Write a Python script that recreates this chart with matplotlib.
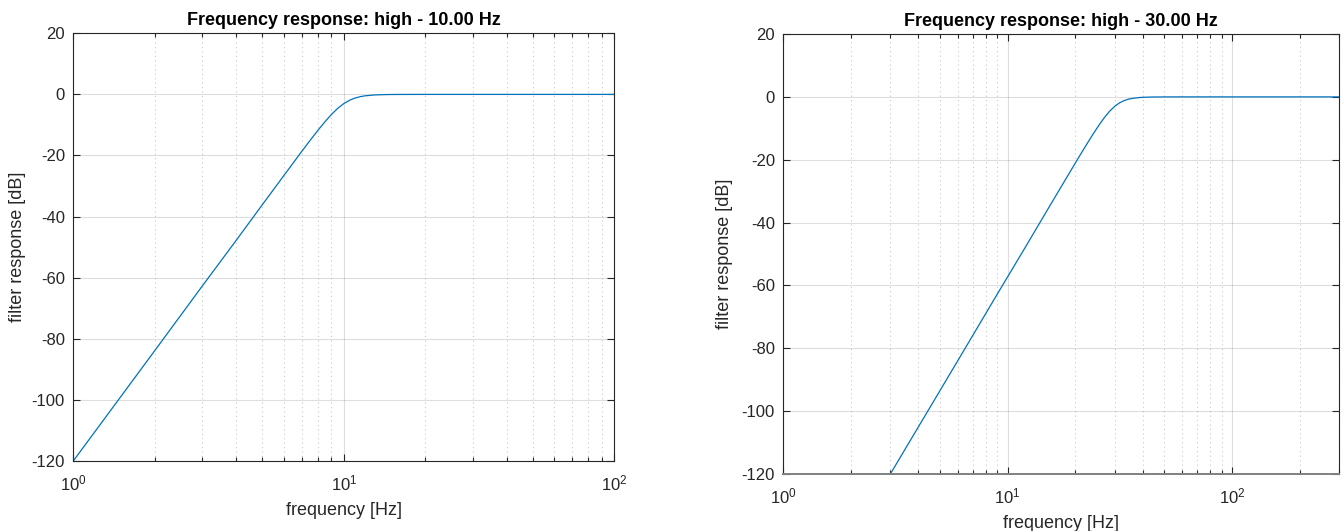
import matplotlib
matplotlib.use("Agg")
import matplotlib.pyplot as plt
from matplotlib.ticker import LogLocator, NullFormatter

plt.rcParams['font.family'] = ['Liberation Sans', 'DejaVu Sans']
plt.rcParams['mathtext.fontset'] = 'custom'
plt.rcParams['mathtext.rm'] = 'Liberation Sans'
plt.rcParams['axes.unicode_minus'] = False

# Left panel: high-pass at 10 Hz
freq_10 = [1, 2, 3, 4, 5, 6, 7, 7.5, 8, 8.5, 9, 9.5, 10, 10.5, 11, 11.5, 12, 13, 14, 15, 17, 20, 100]
# Right panel: high-pass at 30 Hz (curve visible from ~3 Hz)
freq_30 = [3, 6, 9, 12, 15, 18, 21, 22.5, 24, 25.5, 27, 28.5, 30, 31.5, 33, 34.5, 36, 39, 42, 45, 51, 60, 300]
resp_db = [-120, -83.9, -62.7, -47.8, -36.1, -26.6, -18.6, -15.1, -11.9, -9.05, -6.57, -4.55,
           -3.01, -1.92, -1.20, -0.74, -0.46, -0.18, -0.08, -0.03, -0.01, 0.0, 0.0]

titles = ["Frequency response: high - 10.00 Hz", "Frequency response: high - 30.00 Hz"]
xlims = [(1, 100), (1, 300)]
yticks = [20, 0, -20, -40, -60, -80, -100, -120]

TXT = '#262626'
LINE = '#0072BD'

fig = plt.figure(figsize=(13.44, 5.31), dpi=100)
ax1 = fig.add_axes([0.0545, 0.1318, 0.4026, 0.8055])
ax2 = fig.add_axes([0.5828, 0.1073, 0.4135, 0.8286])

for ax, f, title, xl in [(ax1, freq_10, titles[0], xlims[0]),
                         (ax2, freq_30, titles[1], xlims[1])]:
    ax.semilogx(f, resp_db, color=LINE, lw=0.9, clip_on=True)
    ax.set_xlim(*xl)
    ax.set_ylim(-120, 20)
    ax.set_yticks(yticks)
    ax.xaxis.set_major_locator(LogLocator(base=10, numticks=10))
    ax.xaxis.set_minor_locator(LogLocator(base=10, subs=range(2, 10), numticks=20))
    ax.xaxis.set_minor_formatter(NullFormatter())
    ax.grid(True, which='major', color=TXT, alpha=0.15, lw=0.8, ls='-')
    ax.grid(True, which='minor', axis='x', color=TXT, alpha=0.25, lw=0.8, ls=(0, (1, 3)))
    ax.set_axisbelow(True)
    ax.tick_params(which='both', direction='in', top=True, right=True, colors=TXT,
                   labelsize=12, labelcolor=TXT)
    ax.tick_params(which='major', length=5, width=0.8)
    ax.tick_params(axis='y', which='major', pad=6)
    ax.tick_params(axis='x', which='major', pad=9)
    ax.tick_params(which='minor', length=3, width=0.8)
    for s in ax.spines.values():
        s.set_color(TXT)
        s.set_linewidth(0.8)
    ax.set_title(title, fontsize=13, fontweight='bold', color='black', pad=6)
    ax.set_xlabel('frequency [Hz]', fontsize=13, color=TXT, labelpad=6)
    ax.set_ylabel('filter response [dB]', fontsize=13, color=TXT)

ax1.yaxis.set_label_coords(-0.087, 0.5)
ax2.yaxis.set_label_coords(-0.0905, 0.5)
ax2.spines['bottom'].set_color('#808080')
ax2.spines['bottom'].set_linewidth(1.4)

fig.savefig('out.png', dpi=100)
